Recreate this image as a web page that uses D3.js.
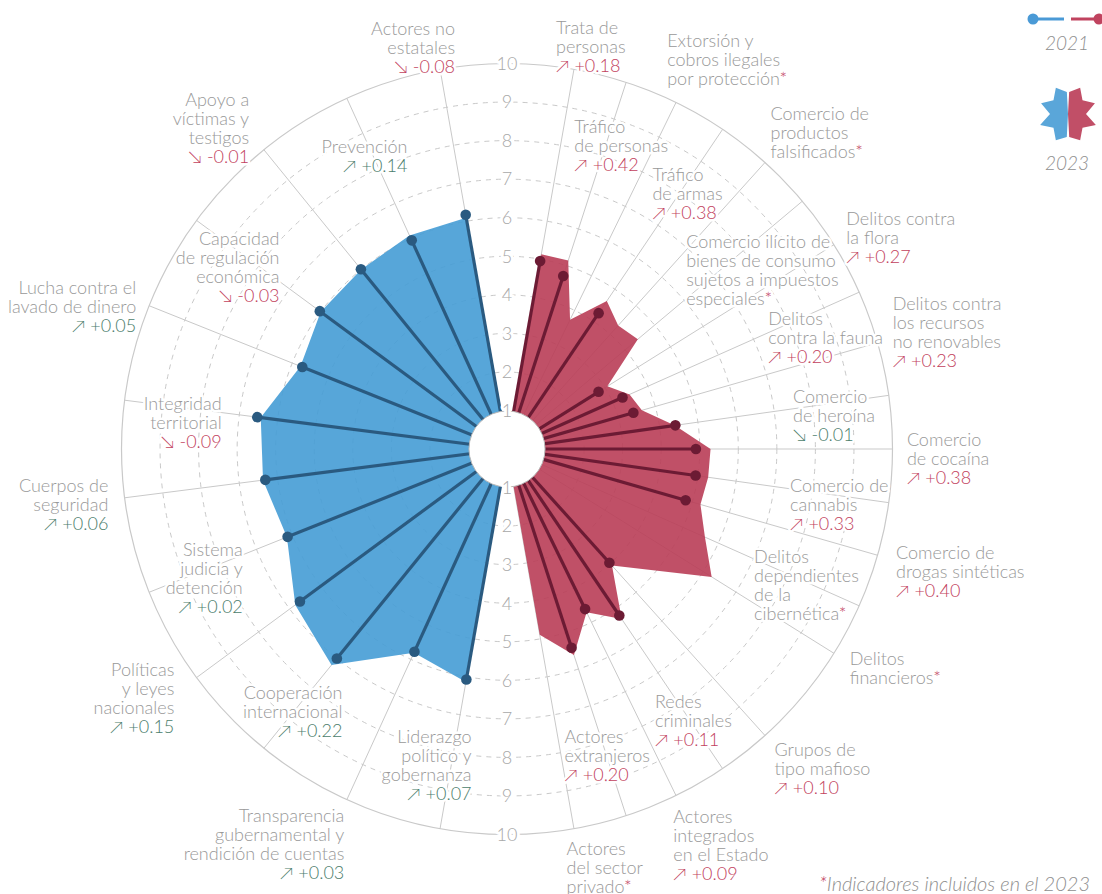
<!DOCTYPE html>
<html><head><meta charset="utf-8">
<script src="https://cdn.jsdelivr.net/npm/d3@7"></script>
<style>
body{margin:0;background:#fff;}
svg text{font-family:Lato,"Noto Sans","DejaVu Sans",sans-serif;}
</style></head><body>
<svg id="chart" width="1102" height="894"></svg>
<script>
// ---------------- DATA ----------------
// Resilience (left half, from top going counter-clockwise)
const resilienceNames = [
  "Actores no\nestatales","Prevención","Apoyo a\nvíctimas y\ntestigos","Capacidad\nde regulación\neconómica",
  "Lucha contra el\nlavado de dinero","Integridad\nterritorial","Cuerpos de\nseguridad","Sistema\njudicia y\ndetención",
  "Políticas\ny leyes\nnacionales","Cooperación\ninternacional","Transparencia\ngubernamental y\nrendición de cuentas",
  "Liderazgo\npolítico y\ngobernanza"];
const resilience2021 = [6.17,5.95,6.01,6.03,5.72,6.53,6.32,6.13,6.67,7.00,5.78,6.07];
const resilience2023 = [6.09,6.09,6.00,6.00,5.77,6.44,6.38,6.15,6.82,7.22,5.81,6.14];
const resilienceChange = [-0.08,0.14,-0.01,-0.03,0.05,-0.09,0.06,0.02,0.15,0.22,0.03,0.07];

// Criminality (right half, from top going clockwise); null = indicator added in 2023
const criminalityNames = [
  "Trata de\npersonas","Tráfico\nde personas","Extorsión y\ncobros ilegales\npor protección","Tráfico\nde armas",
  "Comercio de\nproductos\nfalsificados","Comercio ilícito de\nbienes de consumo\nsujetos a impuestos\nespeciales",
  "Delitos contra\nla flora","Delitos\ncontra la fauna","Delitos contra\nlos recursos\nno renovables",
  "Comercio\nde heroína","Comercio\nde cocaína","Comercio de\ncannabis","Comercio de\ndrogas sintéticas",
  "Delitos\ndependientes\nde la\ncibernética","Delitos\nfinancieros",
  "Grupos de\ntipo mafioso","Redes\ncriminales","Actores\nintegrados\nen el Estado","Actores\nextranjeros",
  "Actores\ndel sector\nprivado"];
const criminalityGroup = ["m","m","m","m","m","m","m","m","m","m","m","m","m","m","m","a","a","a","a","a"];
const criminality2021 = [4.95,4.72,null,4.25,null,null,2.80,3.28,3.41,4.41,4.90,4.94,4.82,null,null,3.97,5.21,4.62,5.42,null];
const criminality2023 = [5.13,5.14,3.73,4.63,4.31,4.43,3.07,3.48,3.64,4.40,5.28,5.27,5.22,5.62,6.26,4.07,5.32,4.71,5.62,4.89];
const criminalityChange = [0.18,0.42,null,0.38,null,null,0.27,0.20,0.23,-0.01,0.38,0.33,0.40,null,null,0.10,0.11,0.09,0.20,null];

const tickValues = [1,2,3,4,5,6,7,8,9,10];
const legendYears = ["2021","2023"];
const legendStar = [22,29,20,29,18,30,20,29,23];
const footnote = "Indicadores incluidos en el 2023";

// ---------------- LAYOUT ----------------
// label anchors: [angle in degrees, radius in px]
const resilienceLabelPos = [[-7.37,405],[-18.8,309],[-38.75,412],[-51.42,291],[-69.06,397],[-84.83,286.5],
  [-97.92,402.5],[-116.0,294],[-126.8,415.5],[-147.94,310],[-157.64,427.7],[-173.6,318]];
const criminalityLabelPos = [[6.95,405],[12.5,311],[22.36,421],[29.65,294],[39.76,412],[45.08,253],[58.03,400],
  [66.87,284],[73.13,403],[83.4,288],[91.39,400],[101.2,288.5],[107.55,408],[118.8,282],[122.64,407],
  [140.1,417],[151.4,309],[157.22,429.5],[169.4,312],[171.9,423]];

const cx = 507, cy = 449;
const COL = {
  blue:"#459cd5", blueDark:"#2a5a80", red:"#b93d57", redDark:"#6c1b34",
  grid:"#c9c9c9", text:"#999999", green:"#4b7d6c", neg:"#c2415d", legBlue:"#4a9ad6", legRed:"#c0435f"
};
const FS = 18, LH = 19;
const rad = d => d*Math.PI/180;

const svg = d3.select("#chart");
const g = svg.append("g").attr("transform",`translate(${cx},${cy})`);

const r = d3.scaleLinear().domain([0,10]).range([0,385.5]);
const angRes = d3.scaleLinear().domain([0,resilienceNames.length-1]).range([-10,-170]);
// criminality: 21 slots (a blank slot separates markets from actors)
const critSlot = criminalityNames.map((d,i)=> criminalityGroup[i]==="m" ? i : i+1);
const angCrim = d3.scaleLinear().domain([0,20]).range([10,170]);

const res = resilienceNames.map((n,i)=>({name:n, v21:resilience2021[i], v23:resilience2023[i], ch:resilienceChange[i],
  a:angRes(i), pos:resilienceLabelPos[i], side:"L", kind:"res"}));
const crim = criminalityNames.map((n,i)=>({name:n, v21:criminality2021[i], v23:criminality2023[i], ch:criminalityChange[i],
  a:angCrim(critSlot[i]), pos:criminalityLabelPos[i], side:"R", kind:"crim"}));
const all = res.concat(crim);

// grid circles
g.append("g").selectAll("circle").data(tickValues.filter(v=>v>1 && v<10)).join("circle")
  .attr("r",d=>r(d)).attr("fill","none").attr("stroke",COL.grid).attr("stroke-width",1).attr("stroke-dasharray","5,5");
g.append("circle").attr("r",r(10)).attr("fill","none").attr("stroke",COL.grid).attr("stroke-width",1.2);

// spokes
g.append("g").selectAll("line").data(all).join("line")
  .attr("x1",d=>r(1)*Math.sin(rad(d.a))).attr("y1",d=>-r(1)*Math.cos(rad(d.a)))
  .attr("x2",d=>r(10)*Math.sin(rad(d.a))).attr("y2",d=>-r(10)*Math.cos(rad(d.a)))
  .attr("stroke",COL.grid).attr("stroke-width",1);

// 2023 areas
const radial = d3.lineRadial().angle(d=>rad(d.a)).radius(d=>r(d.v)).curve(d3.curveLinearClosed);
function areaPts(arr){ return [{a:arr[0].a, v:0}].concat(arr.map(d=>({a:d.a, v:d.v23}))).concat([{a:arr[arr.length-1].a, v:0}]); }
g.append("path").attr("d",radial(areaPts(res))).attr("fill",COL.blue).attr("fill-opacity",0.9);
g.append("path").attr("d",radial(areaPts(crim))).attr("fill",COL.red).attr("fill-opacity",0.9);

// 2021 lines + dots
const with21 = all.filter(d=>d.v21!=null);
g.append("g").selectAll("line").data(with21).join("line")
  .attr("x1",0).attr("y1",0)
  .attr("x2",d=>r(d.v21)*Math.sin(rad(d.a))).attr("y2",d=>-r(d.v21)*Math.cos(rad(d.a)))
  .attr("stroke",d=>d.kind==="res"?COL.blueDark:COL.redDark).attr("stroke-width",3.2);
g.append("g").selectAll("circle").data(with21).join("circle")
  .attr("cx",d=>r(d.v21)*Math.sin(rad(d.a))).attr("cy",d=>-r(d.v21)*Math.cos(rad(d.a))).attr("r",5.3)
  .attr("fill",d=>d.kind==="res"?COL.blueDark:COL.redDark);

// inner circle
g.append("circle").attr("r",r(1)-0.5).attr("fill","#fff").attr("stroke","#b8b8b8").attr("stroke-width",1);

// tick labels (top and bottom)
const tk = g.append("g");
[-1,1].forEach(s=>{
  tk.selectAll(null).data(tickValues).join("text")
    .attr("x",0).attr("y",d=>s*r(d)).attr("dy","0.35em").attr("text-anchor","middle")
    .attr("font-size",18).attr("font-weight",300).attr("fill","#a8a8a8")
    .attr("stroke","#fff").attr("stroke-width",6).attr("paint-order","stroke").attr("stroke-linejoin","round")
    .text(d=>d);
});

// indicator labels
const lab = g.append("g");
all.forEach(d=>{
  const lines = d.name.split("\n");
  const hasCh = d.ch!=null;
  const n = lines.length + (hasCh?1:0);
  const ax = d.pos[1]*Math.sin(rad(d.pos[0])), ay = -d.pos[1]*Math.cos(rad(d.pos[0]));
  const t = lab.append("text").attr("font-size",FS).attr("font-weight",300)
    .attr("text-anchor", d.side==="L"?"end":"start")
    .attr("stroke","#fff").attr("stroke-width",5).attr("paint-order","stroke").attr("stroke-linejoin","round");
  lines.forEach((ln,i)=>{
    t.append("tspan").attr("x",ax).attr("y",ay+(i-(n-1)/2)*LH).attr("dy","0.35em").attr("fill",COL.text).text(ln);
    if(i===lines.length-1 && d.v21==null){
      t.append("tspan").attr("fill",COL.neg).text("*");
    }
  });
  if(hasCh){
    const good = d.kind==="res" ? d.ch>0 : d.ch<0;
    const txt = (d.ch>0?"↗ +":"↘ -")+Math.abs(d.ch).toFixed(2);
    t.append("tspan").attr("x",ax).attr("y",ay+(n-1-(n-1)/2)*LH).attr("dy","0.35em")
      .attr("fill",good?COL.green:COL.neg).text(txt);
  }
});

// legend
const lg = svg.append("g");
const ly = 19;
lg.append("line").attr("x1",1033).attr("x2",1064).attr("y1",ly).attr("y2",ly).attr("stroke",COL.legBlue).attr("stroke-width",3);
lg.append("circle").attr("cx",1033).attr("cy",ly).attr("r",5.5).attr("fill",COL.legBlue);
lg.append("line").attr("x1",1071).attr("x2",1099).attr("y1",ly).attr("y2",ly).attr("stroke",COL.legRed).attr("stroke-width",3);
lg.append("circle").attr("cx",1099).attr("cy",ly).attr("r",5.5).attr("fill",COL.legRed);
lg.selectAll("text.yr").data(legendYears).join("text").attr("class","yr")
  .attr("x",1067).attr("y",(d,i)=>i===0?50:170).attr("text-anchor","middle")
  .attr("font-size",19).attr("font-style","italic").attr("font-weight",300).attr("fill","#8f8f8f").text(d=>d);
const starAngle = d3.scaleLinear().domain([0,legendStar.length-1]);
const starR = d3.scaleLinear().domain([0,30]).range([0,30]);
const starG = lg.append("g").attr("transform","translate(1068,114)");
[[-3,-177,"#5aa6d9"],[3,177,"#c14f67"]].forEach(([a0,a1,c])=>{
  starAngle.range([a0,a1]);
  const pts = [{a:a0,v:0}].concat(legendStar.map((v,i)=>({a:starAngle(i),v}))).concat([{a:a1,v:0}]);
  starG.append("path").attr("d",d3.lineRadial().angle(p=>rad(p.a)).radius(p=>starR(p.v)).curve(d3.curveLinearClosed)(pts)).attr("fill",c);
});

// footnote
const fn = svg.append("text").attr("x",1090).attr("y",891).attr("text-anchor","end")
  .attr("font-size",20).attr("font-style","italic").attr("font-weight",300).attr("fill","#8f8f8f");
fn.append("tspan").attr("fill",COL.neg).text("*");
fn.append("tspan").text(footnote);
</script>
</body></html>
